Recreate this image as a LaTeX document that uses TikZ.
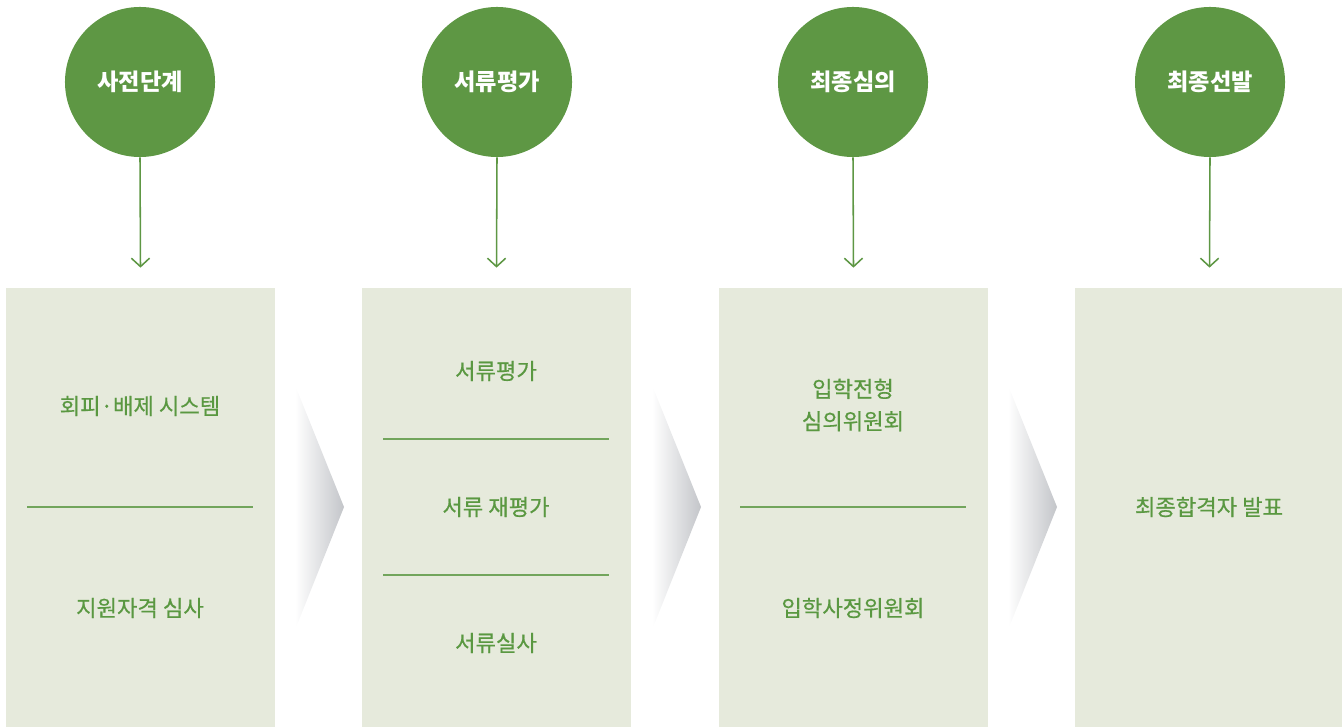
\documentclass[tikz,border=0pt]{standalone}
\usepackage{fontspec}
\setmainfont{Noto Sans CJK KR}
\newfontfamily\itemfont[FakeBold=0.6]{Noto Sans CJK KR}
\usepackage{tikz}
\usetikzlibrary{arrows.meta,positioning,calc}
\definecolor{stepgreen}{HTML}{5E9744}
\definecolor{textgreen}{HTML}{5A9841}
\definecolor{linegreen}{HTML}{72A55C}
\definecolor{boxfill}{HTML}{E6EADC}
\definecolor{chevgray}{HTML}{C3C5C9}
\tikzset{
    stage/.style={circle, fill=stepgreen, draw=none, minimum size=3.75cm, inner sep=0pt,
        text=white, font=\bfseries\fontsize{16.5}{20}\selectfont},
    panel/.style={rectangle, fill=boxfill, draw=none, minimum width=6.725cm,
        minimum height=10.975cm, inner sep=0pt},
    item/.style={text=textgreen, align=center, font=\itemfont\fontsize{15.8}{23}\selectfont},
    flow/.style={draw=stepgreen, line width=1.1pt,
        -{Straight Barb[length=6pt,width=13pt,line width=1.1pt]}},
    divider/.style={draw=linegreen, line width=0.8pt},
}

\begin{document}
\begin{tikzpicture}[x=0.025cm, y=-0.025cm]
	\useasboundingbox (0,0) rectangle (1342,727);
	% stages
	\node[stage] (s1) at (140,82) {사전단계};
	\node[stage] (s2) at (497,82) {서류평가};
	\node[stage] (s3) at (853,82) {최종심의};
	\node[stage] (s4) at (1210,82) {최종선발};
	% panels
	\node[panel] (p1) at (140.5,507.5) {};
	\node[panel] (p2) at (496.5,507.5) {};
	\node[panel] (p3) at (853.5,507.5) {};
	\node[panel] (p4) at (1209.5,507.5) {};
	% arrows
	\draw[flow] (s1.south) -- ([yshift=0.5cm]p1.north);
	\draw[flow] (s2.south) -- ([yshift=0.5cm]p2.north);
	\draw[flow] (s3.south) -- ([yshift=0.5cm]p3.north);
	\draw[flow] (s4.south) -- ([yshift=0.5cm]p4.north);
	% chevrons
	\shade[left color=white, right color=chevgray] (295,385) -- (344,507) -- (295,630) -- cycle;
	\shade[left color=white, right color=chevgray] (652,385) -- (701,507) -- (652,630) -- cycle;
	\shade[left color=white, right color=chevgray] (1008,385) -- (1057,507) -- (1008,630) -- cycle;
	% panel 1
	\node[item] (p1a) at (140,406) {회피·배제 시스템};
	\draw[divider] (27,507) -- (253,507);
	\node[item] (p1b) at (140,608) {지원자격 심사};
	% panel 2
	\node[item] (p2a) at (496,371) {서류평가};
	\draw[divider] (383,439) -- (609,439);
	\node[item] (p2b) at (496,507) {서류 재평가};
	\draw[divider] (383,575) -- (609,575);
	\node[item] (p2c) at (496,643) {서류실사};
	% panel 3
	\node[item] (p3a) at (853,405) {입학전형\\심의위원회};
	\draw[divider] (740,507) -- (966,507);
	\node[item] (p3b) at (853,608) {입학사정위원회};
	% panel 4
	\node[item] (p4a) at (1209,507) {최종합격자 발표};
\end{tikzpicture}
\end{document}
